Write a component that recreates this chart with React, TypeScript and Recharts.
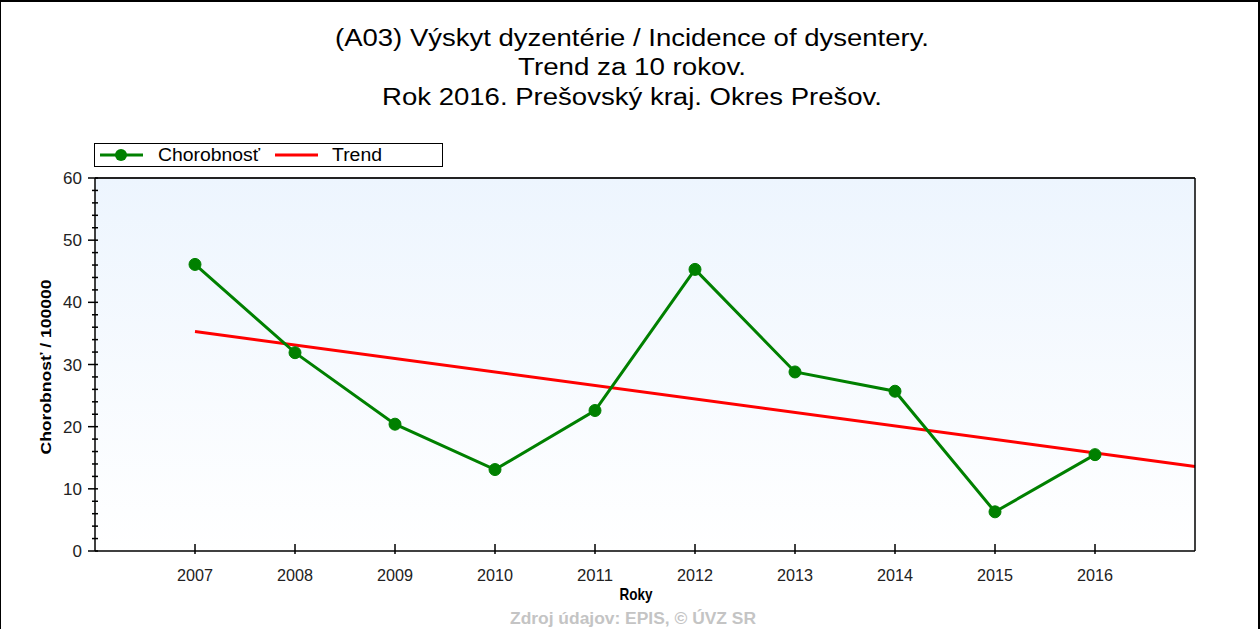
import React from 'react';
import { LineChart, Line, XAxis, YAxis, CartesianGrid } from 'recharts';

const years = [2007, 2008, 2009, 2010, 2011, 2012, 2013, 2014, 2015, 2016];
const incidence = [46.1, 31.9, 20.4, 13.1, 22.6, 45.3, 28.8, 25.7, 6.3, 15.5];
const trendYears = [2007, 2017];
const trendValues = [35.3, 13.6];
const yTicks = [0, 2, 4, 6, 8, 10, 12, 14, 16, 18, 20, 22, 24, 26, 28, 30, 32, 34, 36, 38, 40, 42, 44, 46, 48, 50, 52, 54, 56, 58, 60];
const titleLines = [
  '(A03) Výskyt dyzentérie / Incidence of dysentery.',
  'Trend za 10 rokov.',
  'Rok 2016. Prešovský kraj. Okres Prešov.',
];
// widths of the title lines as they appear in the picture
const titleWidths = [594, 228, 500];
const titleBaselines = [46, 75, 105];

const incidenceData = years.map((year, i) => ({ year, value: incidence[i] }));
const trendData = trendYears.map((year, i) => ({ year, value: trendValues[i] }));

const FONT = '"Liberation Sans", Arial, sans-serif';

const LeftTick = (props: any) => {
  const { x, y, payload } = props;
  const major = payload.value % 10 === 0;
  return (
    <g>
      <line x1={major ? x - 7 : x - 3} x2={x + 3} y1={y} y2={y} stroke="#000" strokeWidth={1.5} />
      {major && (
        <text x={x - 13} y={y + 6} textAnchor="end" fontSize={17} fill="#222" fontFamily={FONT}>
          {payload.value}
        </text>
      )}
    </g>
  );
};

const RightTick = (props: any) => {
  const { x, y, payload } = props;
  const major = payload.value % 10 === 0;
  return (
    <g>
      <line x1={major ? x - 5 : x - 3} x2={major ? x + 7 : x + 3} y1={y} y2={y} stroke="#000" strokeWidth={1.5} />
      {major && (
        <text x={x + 11} y={y + 6} textAnchor="start" fontSize={17} fill="#222" fontFamily={FONT}>
          {payload.value}
        </text>
      )}
    </g>
  );
};

const BottomTick = (props: any) => {
  const { x, y, payload } = props;
  return (
    <g>
      <line x1={x} x2={x} y1={y - 7} y2={y + 3} stroke="#000" strokeWidth={1.5} />
      <text x={x} y={y + 30} textAnchor="middle" fontSize={17} fill="#222" fontFamily={FONT} textLength={36} lengthAdjust="spacingAndGlyphs">
        {payload.value}
      </text>
    </g>
  );
};

const TopTick = (props: any) => {
  const { x, y } = props;
  return <line x1={x} x2={x} y1={y} y2={y + 7} stroke="#000" strokeWidth={1.5} />;
};

const App: React.FC = () => {
  return (
    <div
      style={{
        position: 'absolute',
        left: 0,
        top: 0,
        width: 1260,
        height: 629,
        background: '#fff',
        boxSizing: 'border-box',
        borderTop: '2px solid #000',
        borderLeft: '1px solid #000',
        borderRight: '2px solid #000',
        fontFamily: FONT,
        overflow: 'hidden',
      }}
    >
      <LineChart width={1258} height={627} margin={{ top: 175, right: 12, bottom: 48, left: 33 }}>
        <defs>
          <linearGradient id="plotBg" x1="0" y1="0" x2="0" y2="1">
            <stop offset="0%" stopColor="#edf5fe" />
            <stop offset="100%" stopColor="#ffffff" />
          </linearGradient>
        </defs>
        <CartesianGrid horizontal={false} vertical={false} fill="url(#plotBg)" />
        <XAxis
          xAxisId="bottom"
          dataKey="year"
          type="number"
          domain={[2006, 2017]}
          ticks={years}
          interval={0}
          height={30}
          tickSize={0}
          tickMargin={0}
          tick={<BottomTick />}
          axisLine={{ stroke: '#000', strokeWidth: 1.5 }}
          tickLine={false}
        />
        <XAxis
          xAxisId="top"
          orientation="top"
          dataKey="year"
          type="number"
          domain={[2006, 2017]}
          ticks={years}
          interval={0}
          height={1}
          tickSize={0}
          tickMargin={0}
          tick={<TopTick />}
          axisLine={{ stroke: '#222', strokeWidth: 2 }}
          tickLine={false}
        />
        <YAxis
          yAxisId="left"
          domain={[0, 60]}
          ticks={yTicks}
          interval={0}
          width={61}
          tickSize={0}
          tickMargin={0}
          tick={<LeftTick />}
          axisLine={{ stroke: '#000', strokeWidth: 1.5 }}
          tickLine={false}
        />
        <YAxis
          yAxisId="right"
          orientation="right"
          domain={[0, 60]}
          ticks={yTicks}
          interval={0}
          width={52}
          tickSize={0}
          tickMargin={0}
          tick={<RightTick />}
          axisLine={{ stroke: '#000', strokeWidth: 1.5 }}
          tickLine={false}
        />
        <Line
          xAxisId="bottom"
          yAxisId="left"
          data={trendData}
          dataKey="value"
          stroke="#ff0000"
          strokeWidth={3}
          dot={false}
          isAnimationActive={false}
        />
        <Line
          xAxisId="bottom"
          yAxisId="left"
          data={incidenceData}
          dataKey="value"
          stroke="#008000"
          strokeWidth={3}
          dot={{ r: 6, fill: '#008000', stroke: '#008000', strokeWidth: 1 }}
          isAnimationActive={false}
        />
      </LineChart>

      {/* title, legend, axis titles and source drawn on top */}
      <svg
        width={1260}
        height={629}
        style={{ position: 'absolute', left: -1, top: -2, pointerEvents: 'none' }}
        fontFamily={FONT}
      >
        {titleLines.map((line, i) => (
          <text
            key={line}
            x={632}
            y={titleBaselines[i]}
            textAnchor="middle"
            fontSize={23}
            fill="#000"
            textLength={titleWidths[i]}
            lengthAdjust="spacingAndGlyphs"
          >
            {line}
          </text>
        ))}

        <rect x={94.5} y={143.5} width={348} height={23} fill="#fff" stroke="#000" strokeWidth={1} />
        <line x1={100} x2={143} y1={155} y2={155} stroke="#008000" strokeWidth={3} />
        <circle cx={121} cy={155} r={6} fill="#008000" />
        <text x={158} y={161} fontSize={18} fill="#000" textLength={102} lengthAdjust="spacingAndGlyphs">
          Chorobnosť
        </text>
        <line x1={275} x2={318} y1={155} y2={155} stroke="#ff0000" strokeWidth={3} />
        <text x={332} y={161} fontSize={18} fill="#000" textLength={50} lengthAdjust="spacingAndGlyphs">
          Trend
        </text>

        <text
          transform="translate(51, 367) rotate(-90)"
          textAnchor="middle"
          fontSize={15}
          fontWeight="bold"
          fill="#000"
          textLength={175}
          lengthAdjust="spacingAndGlyphs"
        >
          Chorobnosť / 100000
        </text>

        <text x={636} y={600} textAnchor="middle" fontSize={17} fontWeight="bold" fill="#000" textLength={33} lengthAdjust="spacingAndGlyphs">
          Roky
        </text>

        <text x={633} y={624} textAnchor="middle" fontSize={16} fontWeight="bold" fill="#c4c4c4" textLength={246} lengthAdjust="spacingAndGlyphs">
          Zdroj údajov: EPIS, © ÚVZ SR
        </text>
      </svg>
    </div>
  );
};

export default App;
